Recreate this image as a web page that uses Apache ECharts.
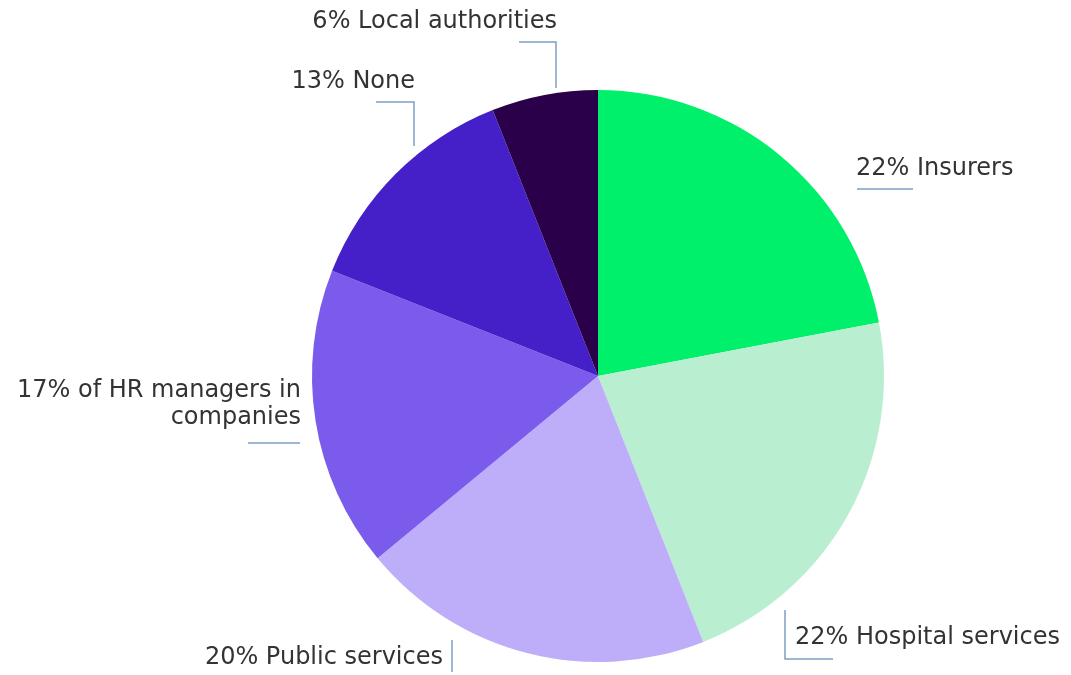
<!DOCTYPE html>
<html>
<head>
<meta charset="utf-8">
<script src="https://cdn.jsdelivr.net/npm/echarts@6/dist/echarts.min.js"></script>
<style>
  html, body { margin: 0; padding: 0; background: #ffffff; }
  #chart { width: 1071px; height: 675px; }
</style>
</head>
<body>
<div id="chart"></div>
<script>
// Who is responsible: share of answers (%)
const categories = [
  'Insurers',
  'Hospital services',
  'Public services',
  'of HR managers in\ncompanies',
  'None',
  'Local authorities'
];
const shares = [22, 22, 20, 17, 13, 6];
const sliceColors = ['#00F06B', '#B9EED1', '#BEAEF9', '#7B5BEB', '#4520C8', '#2B004A'];

// Placement of each label and its elbow leader
const labelPlacement = [
  { x: 856, y: 169, align: 'left',  line: [[857, 189], [885, 189], [913, 189]] },
  { x: 795, y: 638, align: 'left',  line: [[785, 610], [785, 659], [833, 659]] },
  { x: 443, y: 658, align: 'right', line: [[452, 640], [452, 656], [452, 672]] },
  { x: 301, y: 404, align: 'right', line: [[248, 443], [274, 443], [300, 443]] },
  { x: 415, y: 82,  align: 'right', line: [[414, 146], [414, 102], [376, 102]] },
  { x: 557, y: 22,  align: 'right', line: [[556, 88],  [556, 42],  [519, 42]] }
];

const chart = echarts.init(document.getElementById('chart'), null, { renderer: 'canvas' });

chart.setOption({
  backgroundColor: '#ffffff',
  animation: false,
  series: [{
    type: 'pie',
    center: [598, 376],
    radius: 286,
    startAngle: 90,
    clockwise: true,
    data: categories.map((name, i) => ({
      name: name,
      value: shares[i],
      itemStyle: { color: sliceColors[i] }
    })),
    itemStyle: { borderWidth: 0 },
    label: {
      show: true,
      formatter: (p) => p.value + '% ' + p.name,
      color: '#333333',
      fontFamily: '"DejaVu Sans", sans-serif',
      fontSize: 24,
      lineHeight: 27,
      overflow: 'none',
      width: 400
    },
    labelLine: {
      show: true,
      lineStyle: { color: '#7F9DC6', width: 1.5 }
    },
    labelLayout: (params) => {
      const p = labelPlacement[params.dataIndex];
      return {
        x: p.x,
        y: p.y,
        align: p.align,
        verticalAlign: 'middle',
        labelLinePoints: p.line
      };
    }
  }]
});
</script>
</body>
</html>
